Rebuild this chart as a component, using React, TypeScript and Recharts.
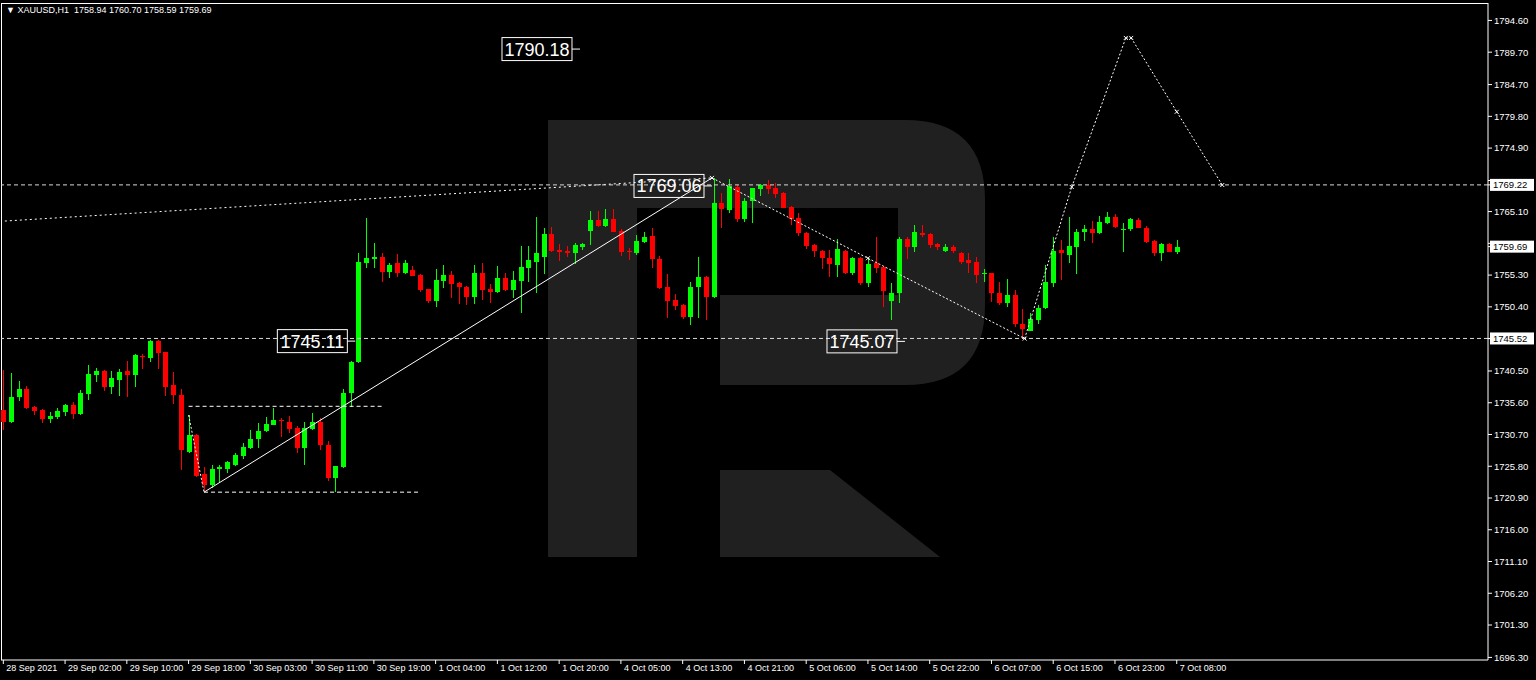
import { ComposedChart, Bar, XAxis, YAxis, ReferenceLine, Scatter } from "recharts";

// XAUUSD H1, bar 0 = 28 Sep 2021
const OPEN = [
  1734.5, 1732.6, 1736.5, 1737.7, 1735.0, 1734.5, 1733.1, 1733.4, 1734.2, 1735.3,
  1733.8, 1736.9, 1739.9, 1740.5, 1738.0, 1739.1, 1740.5, 1739.9, 1742.8, 1742.5,
  1745.1, 1743.4, 1738.3, 1736.8, 1727.9, 1730.6, 1724.6, 1722.9, 1725.4, 1725.3,
  1726.0, 1727.4, 1728.6, 1729.9, 1731.2, 1732.2, 1732.9, 1732.6, 1731.7, 1728.6,
  1731.5, 1732.6, 1729.1, 1724.0, 1725.7, 1737.1, 1741.9, 1757.2, 1757.8, 1758.1,
  1755.8, 1757.2, 1755.6, 1756.1, 1755.3, 1753.1, 1751.3, 1754.4, 1755.3, 1754.1,
  1753.5, 1751.9, 1755.6, 1753.2, 1752.7, 1754.8, 1753.0, 1754.4, 1756.4, 1757.3,
  1758.1, 1761.6, 1759.2, 1759.0, 1758.7, 1759.7, 1762.1, 1763.8, 1762.9, 1764.0,
  1762.1, 1759.0, 1758.7, 1760.4, 1761.3, 1757.8, 1753.5, 1751.5, 1750.7, 1748.8,
  1753.5, 1755.0, 1751.9, 1766.4, 1765.3, 1768.9, 1763.9, 1766.7, 1768.6, 1769.2,
  1768.7, 1768.0, 1765.8, 1764.1, 1761.8, 1759.9, 1759.0, 1757.9, 1756.9, 1759.0,
  1755.6, 1757.9, 1754.1, 1757.2, 1756.5, 1751.3, 1752.5, 1760.9, 1759.6, 1761.8,
  1761.6, 1760.1, 1759.0, 1759.6, 1758.7, 1757.6, 1757.3, 1755.5, 1755.6, 1752.5,
  1751.0, 1752.2, 1747.8, 1746.7, 1748.4, 1750.2, 1754.1, 1759.2, 1758.4, 1759.6,
  1761.9, 1762.4, 1761.8, 1763.3, 1764.3, 1762.2, 1762.4, 1763.8, 1762.6, 1760.6,
  1758.7, 1760.1, 1758.94,
];
const HIGH = [
  1740.6, 1740.2, 1738.9, 1738.2, 1735.1, 1734.6, 1734.2, 1734.8, 1735.4, 1735.7,
  1737.6, 1741.4, 1741.0, 1740.6, 1740.5, 1740.8, 1742.0, 1743.1, 1743.1, 1745.3,
  1745.3, 1743.5, 1740.3, 1737.7, 1733.7, 1730.7, 1725.7, 1726.0, 1726.0, 1726.6,
  1727.9, 1729.4, 1731.4, 1732.5, 1733.4, 1734.8, 1733.3, 1733.5, 1732.0, 1732.6,
  1734.0, 1733.2, 1729.7, 1725.9, 1737.7, 1742.0, 1758.7, 1764.1, 1760.3, 1758.7,
  1757.2, 1758.6, 1757.7, 1756.7, 1755.4, 1753.2, 1756.2, 1756.9, 1755.9, 1754.2,
  1753.6, 1756.9, 1757.2, 1753.9, 1756.7, 1755.6, 1755.9, 1759.8, 1759.8, 1764.3,
  1762.6, 1762.7, 1760.1, 1759.8, 1760.3, 1760.3, 1765.2, 1765.2, 1765.5, 1765.5,
  1762.4, 1759.5, 1761.5, 1761.9, 1762.6, 1758.2, 1755.5, 1752.4, 1750.8, 1754.2,
  1758.1, 1755.1, 1770.3, 1767.9, 1770.1, 1769.2, 1767.2, 1768.8, 1769.4, 1770.0,
  1769.5, 1768.1, 1765.9, 1764.9, 1761.9, 1760.1, 1759.2, 1759.2, 1760.9, 1759.1,
  1758.1, 1758.1, 1757.9, 1761.2, 1756.6, 1754.1, 1761.2, 1761.2, 1763.0, 1763.0,
  1761.8, 1760.2, 1760.1, 1759.9, 1758.8, 1758.7, 1758.1, 1756.3, 1755.7, 1754.2,
  1754.7, 1753.0, 1750.1, 1749.4, 1750.7, 1756.9, 1761.2, 1760.7, 1764.3, 1762.4,
  1763.0, 1763.7, 1764.4, 1765.0, 1764.7, 1763.3, 1764.1, 1764.1, 1762.9, 1760.7,
  1760.2, 1760.2, 1760.7,
];
const LOW = [
  1731.4, 1732.5, 1735.9, 1734.7, 1733.7, 1732.5, 1732.5, 1733.1, 1733.6, 1733.1,
  1733.7, 1736.0, 1738.8, 1737.4, 1736.9, 1736.6, 1736.5, 1738.0, 1740.8, 1741.9,
  1740.8, 1736.6, 1735.4, 1725.2, 1727.8, 1724.2, 1721.8, 1722.4, 1723.4, 1724.7,
  1725.9, 1726.9, 1728.5, 1728.6, 1731.1, 1732.1, 1730.3, 1730.9, 1727.8, 1726.0,
  1731.4, 1728.3, 1723.5, 1721.8, 1725.6, 1734.9, 1741.8, 1756.4, 1756.4, 1754.2,
  1754.8, 1755.0, 1755.5, 1755.1, 1752.7, 1751.0, 1750.4, 1753.3, 1751.8, 1750.8,
  1750.7, 1750.8, 1751.5, 1751.0, 1752.5, 1752.9, 1751.8, 1749.4, 1754.2, 1752.5,
  1755.5, 1758.9, 1757.5, 1758.1, 1757.0, 1759.2, 1760.0, 1762.7, 1762.7, 1761.9,
  1758.3, 1757.6, 1758.4, 1760.3, 1756.4, 1753.2, 1748.7, 1749.9, 1748.6, 1747.6,
  1748.7, 1748.4, 1751.8, 1762.6, 1764.9, 1763.5, 1763.5, 1763.3, 1767.5, 1767.8,
  1767.2, 1765.6, 1763.0, 1761.3, 1759.3, 1758.1, 1756.2, 1755.0, 1755.0, 1755.4,
  1755.3, 1753.8, 1753.5, 1755.6, 1750.4, 1748.4, 1751.0, 1757.8, 1758.9, 1761.2,
  1759.5, 1759.2, 1758.9, 1758.7, 1757.0, 1755.6, 1754.1, 1754.2, 1751.2, 1750.7,
  1750.4, 1747.3, 1745.5, 1746.6, 1747.7, 1750.1, 1753.5, 1754.5, 1757.2, 1755.5,
  1760.6, 1760.3, 1761.6, 1763.2, 1762.6, 1758.9, 1762.1, 1762.5, 1760.3, 1758.2,
  1757.5, 1758.8, 1758.59,
];
const CLOSE = [
  1732.6, 1736.5, 1737.7, 1734.8, 1734.4, 1733.1, 1733.6, 1734.3, 1735.3, 1733.9,
  1737.1, 1740.0, 1740.5, 1738.0, 1739.4, 1740.3, 1739.9, 1743.0, 1742.6, 1745.1,
  1743.2, 1738.0, 1736.8, 1728.3, 1730.6, 1724.3, 1722.9, 1725.4, 1725.7, 1726.4,
  1727.5, 1728.8, 1730.0, 1731.2, 1732.3, 1732.9, 1732.8, 1731.5, 1728.6, 1731.7,
  1732.6, 1729.1, 1724.0, 1725.8, 1737.1, 1741.9, 1757.3, 1757.9, 1758.1, 1755.8,
  1756.9, 1755.6, 1757.2, 1755.2, 1753.0, 1751.3, 1754.5, 1755.3, 1753.9, 1753.5,
  1751.9, 1755.6, 1753.0, 1752.7, 1754.8, 1753.0, 1754.5, 1756.5, 1757.6, 1758.7,
  1761.6, 1759.0, 1758.9, 1758.7, 1759.9, 1760.1, 1763.8, 1762.9, 1764.0, 1762.0,
  1758.9, 1758.9, 1760.6, 1761.2, 1757.8, 1753.3, 1751.3, 1750.5, 1748.8, 1753.5,
  1755.0, 1751.9, 1766.4, 1765.5, 1769.0, 1763.9, 1766.7, 1768.7, 1769.2, 1768.6,
  1767.8, 1765.7, 1763.9, 1761.8, 1759.8, 1758.9, 1757.9, 1757.0, 1759.3, 1755.6,
  1757.9, 1754.1, 1757.0, 1756.4, 1752.8, 1752.5, 1760.9, 1759.6, 1761.9, 1761.5,
  1759.9, 1759.6, 1759.6, 1759.0, 1757.3, 1757.2, 1755.3, 1755.6, 1752.5, 1751.0,
  1752.2, 1747.8, 1747.0, 1748.5, 1750.2, 1754.2, 1759.0, 1758.7, 1759.8, 1761.9,
  1762.4, 1761.8, 1763.5, 1764.3, 1762.7, 1762.4, 1764.0, 1762.6, 1760.4, 1758.7,
  1760.1, 1758.9, 1759.69,
];

const TICK_BARS = [0, 8, 16, 24, 32, 40, 48, 56, 64, 72, 80, 88, 96, 104, 112, 120, 128, 136, 144, 152];
const TICK_LABELS = [
  "28 Sep 2021", "29 Sep 02:00", "29 Sep 10:00", "29 Sep 18:00", "30 Sep 03:00",
  "30 Sep 11:00", "30 Sep 19:00", "1 Oct 04:00", "1 Oct 12:00", "1 Oct 20:00",
  "4 Oct 05:00", "4 Oct 13:00", "4 Oct 21:00", "5 Oct 06:00", "5 Oct 14:00",
  "5 Oct 22:00", "6 Oct 07:00", "6 Oct 15:00", "6 Oct 23:00", "7 Oct 08:00",
];
const PRICE_TICKS = [
  1794.6, 1789.7, 1784.7, 1779.8, 1774.9, 1769.9, 1765.1, 1760.2, 1755.3, 1750.4,
  1745.5, 1740.5, 1735.6, 1730.7, 1725.8, 1720.9, 1716.0, 1711.1, 1706.2, 1701.3, 1696.3,
];

// levels and forecast
const LEVELS = [1769.22, 1745.52];
const AXIS_TAG_PRICES = [1769.22, 1759.69, 1745.52];
const TAG_BARS = [74.7, 91.8, 45.6, 116.8];
const TAG_PRICES = [1790.18, 1769.06, 1745.11, 1745.07];
const PATH_BARS = [91.8, 112, 132.3, 138.4, 145.4, 146.1, 152, 157.9];
const PATH_PRICES = [1770.3, 1757.9, 1745.5, 1768.9, 1791.9, 1791.9, 1780.5, 1769.2];
const RANGE_TOP = 1735.05;
const RANGE_BOTTOM = 1721.8;

const X_DOMAIN = [-0.3, 192.32];
const Y_DOMAIN = [1695.9, 1797.29];

const rows = OPEN.map((o, i) => ({
  i,
  open: o,
  high: HIGH[i],
  low: LOW[i],
  close: CLOSE[i],
  range: [LOW[i], HIGH[i]],
}));
const tags = TAG_BARS.map((b, k) => ({ i: b, price: TAG_PRICES[k] }));
const pathPts = PATH_BARS.map((b, k) => ({ i: b, price: PATH_PRICES[k] }));
const axisTags = AXIS_TAG_PRICES.map((p) => ({ i: X_DOMAIN[1], price: p }));

const FONT = "'Liberation Sans', Arial, sans-serif";

function Candle(props: any) {
  let { x, y, width, height } = props;
  const { open, close, high, low } = props.payload;
  if (height < 0) {
    y += height;
    height = -height;
  }
  const up = close >= open;
  const color = up ? "#00ff00" : "#ff0000";
  const k = height / (high - low || 1);
  const cx = Math.round(x + width / 2) + 0.5;
  const yo = y + (high - open) * k;
  const yc = y + (high - close) * k;
  const top = Math.round(Math.min(yo, yc));
  const bh = Math.max(1, Math.round(Math.abs(yo - yc)));
  return (
    <g shapeRendering="crispEdges">
      <line x1={cx} x2={cx} y1={y} y2={y + height} stroke={color} />
      <rect x={cx - 2.5} y={top} width={5} height={bh} fill={color} />
    </g>
  );
}

function PriceTag(props: any) {
  const { cx, cy, payload } = props;
  const w = 70;
  const h = 23;
  const right = cx - 8;
  return (
    <g>
      <rect x={right - w} y={cy - h / 2} width={w} height={h} fill="none" stroke="#fff" />
      <line x1={right} x2={cx} y1={cy} y2={cy} stroke="#fff" />
      <text x={right - w / 2} y={cy} dy="0.36em" textAnchor="middle" fill="#fff" fontSize={18} fontFamily={FONT}>
        {payload.price.toFixed(2)}
      </text>
    </g>
  );
}

function AxisTag(props: any) {
  const { cx, cy, payload } = props;
  return (
    <g>
      <line x1={cx} x2={cx + 3} y1={cy} y2={cy} stroke="#fff" />
      <rect x={cx + 2} y={cy - 6} width={44} height={12} fill="#fff" />
      <text x={cx + 5} y={cy} dy="0.35em" fill="#000" fontSize={9.5} fontFamily={FONT}>
        {payload.price.toFixed(2)}
      </text>
    </g>
  );
}

function Mark(props: any) {
  const { cx, cy } = props;
  return (
    <g stroke="#fff" strokeWidth={1}>
      <line x1={cx - 2} x2={cx + 2} y1={cy - 2} y2={cy + 2} />
      <line x1={cx - 2} x2={cx + 2} y1={cy + 2} y2={cy - 2} />
    </g>
  );
}

function TimeTick(props: any) {
  const { x, y, payload } = props;
  const label = TICK_LABELS[TICK_BARS.indexOf(payload.value)];
  return (
    <text x={x + 3} y={y - 1} dy="0.71em" fill="#fff" fontSize={9} fontFamily={FONT}>
      {label}
    </text>
  );
}

function PriceTick(props: any) {
  const { x, y, payload } = props;
  // labels that sit under a price tag are hidden by it
  if (AXIS_TAG_PRICES.some((p) => Math.abs(p - payload.value) < 0.9)) return <g />;
  return (
    <text x={x} y={y} dy="0.35em" fill="#fff" fontSize={9.5} fontFamily={FONT}>
      {payload.value.toFixed(2)}
    </text>
  );
}

const seg = (a: number, pa: number, b: number, pb: number) => [
  { x: a, y: pa },
  { x: b, y: pb },
];

export default function App() {
  return (
    <div
      style={{
        position: "absolute",
        left: 0,
        top: 0,
        width: 1536,
        height: 680,
        background: "#000",
        overflow: "hidden",
        fontFamily: FONT,
      }}
    >
      {/* watermark logo */}
      <svg width={1536} height={680} style={{ position: "absolute", left: 0, top: 0 }}>
        <g fill="#202020">
          <rect x={548} y={120} width={89} height={437} />
          <path d="M637 120 H905 Q985 120 985 200 V305 Q985 385 905 385 H720 V295 H898 V208 H637 Z" />
          <path d="M720 470 H830 L940 557 H720 Z" />
        </g>
        <g stroke="#fff" fill="none" shapeRendering="crispEdges">
          <line x1={1.5} x2={1.5} y1={3} y2={660} />
          <line x1={1} x2={1488} y1={3.5} y2={3.5} />
        </g>
      </svg>

      <div style={{ position: "absolute", left: 0, top: 0 }}>
        <ComposedChart width={1536} height={680} data={rows} margin={{ top: 3, right: 0, bottom: 0, left: 1 }}>
          <XAxis
            dataKey="i"
            type="number"
            domain={X_DOMAIN}
            ticks={TICK_BARS}
            interval={0}
            height={20}
            tick={<TimeTick />}
            tickSize={4}
            tickLine={{ stroke: "#fff" }}
            axisLine={{ stroke: "#fff" }}
          />
          <YAxis
            orientation="right"
            type="number"
            domain={Y_DOMAIN}
            ticks={PRICE_TICKS}
            interval={0}
            width={48}
            tick={<PriceTick />}
            tickSize={4}
            tickMargin={2}
            tickLine={{ stroke: "#fff" }}
            axisLine={{ stroke: "#fff" }}
          />

          <ReferenceLine
            segment={seg(0.2, 1763.64, 91.8, 1770.3)}
            stroke="#fff"
            strokeDasharray="2 3"
          />
          {LEVELS.map((p) => (
            <ReferenceLine key={p} y={p} stroke="#d8d8d8" strokeDasharray="4 3" />
          ))}

          <ReferenceLine segment={seg(24, RANGE_TOP, 49.1, RANGE_TOP)} stroke="#fff" strokeDasharray="4 3" />
          <ReferenceLine segment={seg(26, RANGE_BOTTOM, 54, RANGE_BOTTOM)} stroke="#fff" strokeDasharray="4 3" />
          <ReferenceLine segment={seg(24, 1733.7, 26, RANGE_BOTTOM)} stroke="#fff" strokeDasharray="2 2" />
          <ReferenceLine segment={seg(26, RANGE_BOTTOM, 91.8, 1770.3)} stroke="#fff" />

          {PATH_BARS.slice(1).map((b, k) => (
            <ReferenceLine
              key={"p" + k}
              segment={seg(PATH_BARS[k], PATH_PRICES[k], b, PATH_PRICES[k + 1])}
              stroke="#fff"
              strokeDasharray="2 2"
            />
          ))}

          <Bar dataKey="range" barSize={5} shape={<Candle />} isAnimationActive={false} />
          <Scatter data={pathPts} dataKey="price" shape={<Mark />} isAnimationActive={false} />
          <Scatter data={tags} dataKey="price" shape={<PriceTag />} isAnimationActive={false} />
          <Scatter data={axisTags} dataKey="price" shape={<AxisTag />} isAnimationActive={false} />
        </ComposedChart>
      </div>

      <div
        style={{
          position: "absolute",
          left: 6,
          top: 4,
          color: "#fff",
          fontSize: 9,
          whiteSpace: "pre",
          lineHeight: "12px",
        }}
      >
        {"▼ XAUUSD,H1  1758.94 1760.70 1758.59 1759.69"}
      </div>
    </div>
  );
}
